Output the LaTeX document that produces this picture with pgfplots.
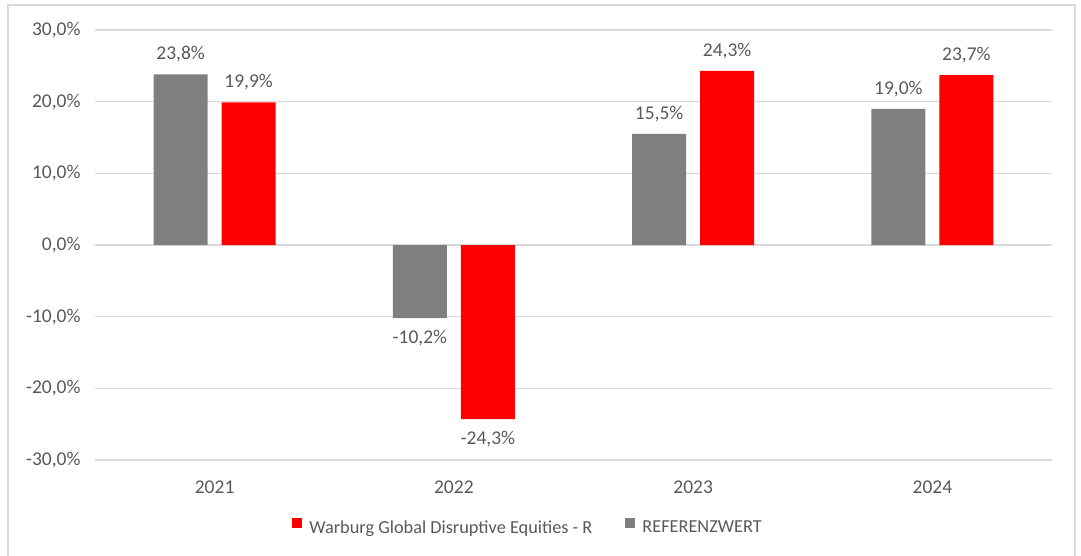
\documentclass[border=0pt]{standalone}
\usepackage{pgfplots}
\pgfplotsset{compat=1.18}
\usepackage{fontspec}
\setmainfont{Carlito}
\definecolor{refgray}{HTML}{7F7F7F}
\definecolor{wred}{HTML}{FF0000}
\definecolor{txt}{HTML}{595959}
\definecolor{gridc}{HTML}{D9D9D9}
\begin{document}
\begin{tikzpicture}[x=1pt,y=1pt,font=\fontsize{19.5}{23}\selectfont]
\useasboundingbox (0,0) rectangle (1081,555);
\draw[gridc, line width=1.5pt] (8,-2) -- (8,550) -- (1075,550) -- (1075,-2);
\begin{axis}[
  at={(95pt,95pt)}, anchor=south west,
  scale only axis, width=957pt, height=430pt,
  xmin=-0.5, xmax=3.5, ymin=-30, ymax=30,
  ytick={-30,-20,-10,0,10,20,30},
  xtick={0,1,2,3}, xticklabels={2021,2022,2023,2024},
  axis line style={draw=none}, major tick length=0pt,
  ymajorgrids, grid style={gridc, line width=1.3pt},
  tick label style={text=txt},
  yticklabel style={xshift=-11pt},
  xticklabel style={yshift=-17pt},
  yticklabel={\pgfmathprintnumber{\tick}\%},
  /pgf/number format/.cd, fixed, fixed zerofill, precision=1, use comma, assume math mode=true,
  /pgfplots/.cd,
  ybar, bar width=54pt,
  nodes near coords={\pgfmathprintnumber{\pgfplotspointmeta}\%},
  nodes near coords align=vertical,
  every node near coord/.append style={text=txt, inner ysep=12pt},
  legend style={draw=none, at={(0.4525,-0.156)}, anchor=center, text=txt,
    font=\fontsize{18.3}{22}\selectfont,
    legend columns=2, /tikz/every even column/.style={column sep=31pt},
    /tikz/every odd column/.style={column sep=5pt}},
  legend image code/.code={\fill[#1] (0pt,0pt) rectangle (10pt,10pt);},
]
\addplot[fill=wred, draw=none, bar shift=34pt] coordinates {(0,19.9) (1,-24.3) (2,24.3) (3,23.7)};
\addlegendentry{Warburg Global Disruptive Equities - R}
\addplot[fill=refgray, draw=none, bar shift=-34pt] coordinates {(0,23.8) (1,-10.2) (2,15.5) (3,19.0)};
\addlegendentry{REFERENZWERT}
\end{axis}
\end{tikzpicture}
\end{document}
